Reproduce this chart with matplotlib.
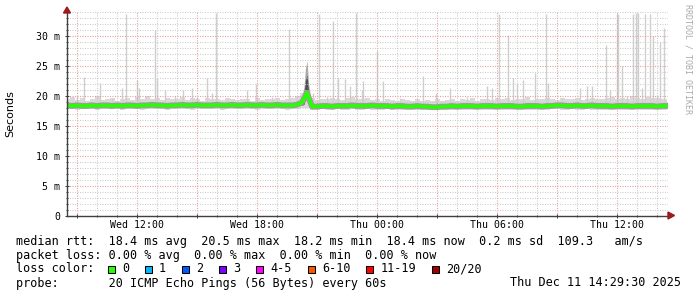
import matplotlib
matplotlib.use("Agg")
import matplotlib.pyplot as plt
import matplotlib.ticker as ticker
from matplotlib.patches import Rectangle, Polygon

# ----------------------------------------------------------------------------
# DATA  (time in hours since Wed 00:00, one sample every 15 minutes)
# ----------------------------------------------------------------------------
start_hour = 8.5
step_hour = 0.25

median_ms = [
    18.4, 18.3, 18.4, 18.3, 18.3, 18.4, 18.3, 18.4, 18.4, 18.3, 18.4, 18.3,
    18.4, 18.4, 18.3, 18.4, 18.4, 18.5, 18.4, 18.4, 18.3, 18.4, 18.4, 18.5,
    18.4, 18.4, 18.5, 18.4, 18.4, 18.4, 18.5, 18.4, 18.4, 18.5, 18.4, 18.4,
    18.5, 18.4, 18.4, 18.5, 18.4, 18.4, 18.5, 18.4, 18.4, 18.4, 18.5, 18.9,
    20.5, 18.2, 18.2, 18.3, 18.3, 18.2, 18.3, 18.3, 18.3, 18.4, 18.3, 18.3,
    18.3, 18.4, 18.3, 18.3, 18.3, 18.2, 18.3, 18.3, 18.2, 18.2, 18.3, 18.2,
    18.2, 18.1, 18.1, 18.2, 18.2, 18.3, 18.2, 18.3, 18.3, 18.3, 18.2, 18.3,
    18.3, 18.3, 18.2, 18.3, 18.3, 18.3, 18.2, 18.2, 18.3, 18.3, 18.3, 18.2,
    18.3, 18.3, 18.4, 18.4, 18.3, 18.3, 18.4, 18.3, 18.3, 18.4, 18.3, 18.3,
    18.3, 18.2, 18.3, 18.3, 18.3, 18.2, 18.3, 18.3, 18.3, 18.3, 18.2, 18.3,
    18.3,
]

smoke_top = [
    19.4, 19.8, 19.3, 19.6, 19.2, 19.5, 19.9, 19.3, 19.4, 19.7, 19.2, 19.5,
    19.6, 19.3, 19.8, 19.5, 19.9, 19.4, 19.6, 19.3, 19.7, 19.5, 19.4, 19.8,
    19.3, 19.6, 19.5, 19.2, 19.7, 19.4, 19.5, 19.3, 19.6, 19.4, 19.3, 19.5,
    19.4, 19.2, 19.6, 19.3, 19.5, 19.4, 19.7, 19.3, 19.5, 19.6, 19.9, 20.4,
    21.0, 19.6, 19.3, 19.5, 19.4, 19.7, 19.5, 19.3, 19.6, 19.8, 19.4, 19.5,
    19.7, 19.3, 19.5, 19.2, 19.4, 19.3, 19.2, 19.5, 19.3, 19.1, 19.4, 19.2,
    19.3, 19.1, 19.4, 19.2, 19.3, 19.5, 19.2, 19.4, 19.3, 19.6, 19.2, 19.4,
    19.5, 19.3, 19.6, 19.4, 19.7, 19.3, 19.5, 19.4, 19.8, 19.3, 19.5, 19.4,
    19.6, 19.4, 19.3, 19.7, 19.5, 19.4, 19.6, 19.3, 19.5, 19.7, 19.4, 19.5,
    19.6, 19.8, 19.5, 19.7, 19.4, 19.9, 19.6, 19.5, 19.8, 19.6, 19.7, 19.5,
    19.4,
]

smoke_bottom = [
    17.8, 17.8, 17.7, 17.8, 17.8, 17.8, 17.7, 17.8, 17.8, 17.8, 17.8, 17.7,
    17.8, 17.8, 17.8, 17.7, 17.8, 17.8, 17.8, 17.8, 17.7, 17.8, 17.8, 17.8,
    17.8, 17.7, 17.8, 17.8, 17.8, 17.8, 17.8, 17.7, 17.8, 17.8, 17.8, 17.8,
    17.8, 17.8, 17.7, 17.8, 17.8, 17.8, 17.8, 17.8, 17.7, 17.8, 17.8, 17.9,
    18.0, 17.7, 17.7, 17.8, 17.7, 17.7, 17.8, 17.7, 17.7, 17.8, 17.7, 17.7,
    17.8, 17.7, 17.7, 17.7, 17.8, 17.7, 17.7, 17.7, 17.6, 17.7, 17.7, 17.6,
    17.6, 17.6, 17.6, 17.7, 17.6, 17.7, 17.7, 17.7, 17.7, 17.7, 17.6, 17.7,
    17.7, 17.7, 17.7, 17.7, 17.7, 17.7, 17.7, 17.6, 17.7, 17.7, 17.7, 17.7,
    17.7, 17.8, 17.8, 17.7, 17.7, 17.8, 17.7, 17.7, 17.8, 17.7, 17.7, 17.7,
    17.7, 17.7, 17.7, 17.7, 17.7, 17.7, 17.7, 17.7, 17.7, 17.7, 17.7, 17.7,
    17.7,
]

# single tall outlier pings
spike_hours = [
    8.98, 9.35, 10.15, 10.73, 11.23, 11.43, 11.98, 12.10, 12.90, 12.98,
    13.40, 13.90, 14.30, 14.73, 14.98, 15.48, 15.73, 15.95, 16.48, 17.48,
    17.95, 18.73, 19.60, 19.95, 20.80, 21.10, 21.48, 21.78, 22.07, 22.40,
    22.65, 22.95, 23.23, 23.30, 23.98, 24.28, 25.15, 26.28, 26.95, 27.65,
    28.48, 29.48, 29.73, 30.10, 30.56, 30.80, 30.98, 31.28, 31.90, 32.45,
    32.53, 33.23, 34.15, 34.52, 34.73, 35.43, 35.65, 36.00, 36.07, 36.23,
    36.50, 36.82, 36.97, 37.05, 37.23, 37.40, 37.65, 37.78, 37.98, 38.15,
    38.35,
]
spike_ms = [
    20.0, 23.1, 22.1, 19.6, 21.3, 33.6, 22.7, 21.3, 31.0, 23.0,
    21.0, 20.0, 21.0, 21.3, 19.8, 23.0, 20.5, 33.8, 19.5, 21.0,
    22.0, 19.8, 31.1, 19.5, 20.5, 33.6, 19.8, 32.5, 23.0, 22.8,
    21.6, 33.8, 21.0, 22.4, 27.5, 22.4, 19.6, 23.3, 20.5, 21.3,
    19.8, 21.6, 21.3, 33.6, 30.2, 23.0, 22.0, 22.7, 23.8, 33.6,
    22.2, 19.7, 21.3, 21.6, 21.6, 28.5, 21.0, 33.6, 33.6, 25.0,
    20.0, 33.6, 33.8, 33.8, 21.3, 33.6, 33.6, 30.0, 20.2, 29.0,
    31.3,
]

# the latency bump on Wed evening (darker smoke)
event_hours = [20.25, 20.35, 20.42, 20.5, 20.58, 20.68]
event_lo = [18.4, 18.6, 19.2, 19.6, 18.8, 18.3]
event_hi = [19.8, 21.5, 24.5, 25.8, 22.0, 19.6]
event_core_hi = [19.0, 20.2, 22.5, 23.5, 20.5, 19.0]

xtick_hours = [12, 18, 24, 30, 36]
xtick_labels = ["Wed 12:00", "Wed 18:00", "Thu 00:00", "Thu 06:00", "Thu 12:00"]

loss_labels = ["0", "1", "2", "3", "4-5", "6-10", "11-19", "20/20"]
loss_colors = ["#26ff00", "#00b8ff", "#0059ff", "#7e00ff",
               "#ff00ff", "#ff5500", "#ff0000", "#a10000"]

row_rtt = "median rtt:  18.4 ms avg  20.5 ms max  18.2 ms min  18.4 ms now  0.2 ms sd  109.3   am/s"
row_loss = "packet loss: 0.00 % avg  0.00 % max  0.00 % min  0.00 % now"
row_probe = "probe:       20 ICMP Echo Pings (56 Bytes) every 60s"
stamp = "Thu Dec 11 14:29:30 2025"

# ----------------------------------------------------------------------------
# STYLE
# ----------------------------------------------------------------------------
W, H = 697, 297
MONO = "DejaVu Sans Mono"
GRID_MINOR = "#cccccc"
GRID_MAJOR = "#eb9a9a"
AXIS = "#404040"
ARROW = "#9b1c1c"
MEDIAN = "#26ff00"


def fx(px):
    return px / W


def fy(py):
    return 1 - py / H


hours = [start_hour + i * step_hour for i in range(len(median_ms))]

fig = plt.figure(figsize=(W / 100, H / 100), dpi=100)
fig.patch.set_facecolor("white")
ax = fig.add_axes([fx(67), fy(215.5), (668 - 67) / W, (215.5 - 12) / H])
ax.set_facecolor("white")

# smoke
ax.fill_between(hours, smoke_bottom, smoke_top, step="mid",
                color="#d9d9d9", linewidth=0, zorder=1)
ax.vlines(spike_hours, 18.6, spike_ms, color="#cfcfcf", linewidth=1.0, zorder=1)
ax.fill_between(event_hours, event_lo, event_hi, color="#a8a8a8",
                linewidth=0, zorder=1.5)
ax.fill_between(event_hours, event_lo, event_core_hi, color="#505050",
                linewidth=0, zorder=1.6)

# median
ax.plot(hours, median_ms, color="#9c9c9c", linewidth=4.2, zorder=3)
ax.plot(hours, median_ms, color=MEDIAN, linewidth=2.5, zorder=4)

ax.set_xlim(8.5, 38.55)
ax.set_ylim(0, 34)

# grid
ax.xaxis.set_major_locator(ticker.MultipleLocator(3))
ax.xaxis.set_minor_locator(ticker.MultipleLocator(1))
ax.yaxis.set_major_locator(ticker.MultipleLocator(5))
ax.yaxis.set_minor_locator(ticker.MultipleLocator(1))
xlab = dict(zip(xtick_hours, xtick_labels))
ax.xaxis.set_major_formatter(
    ticker.FuncFormatter(lambda v, p: xlab.get(int(round(v)), "")))
ax.yaxis.set_major_formatter(
    ticker.FuncFormatter(lambda v, p: "0" if v == 0 else f"{v:.0f} m"))
ax.set_axisbelow(False)
ax.grid(True, which="minor", color=GRID_MINOR, linewidth=0.75,
        linestyle=(0, (1, 1.4)))
ax.grid(True, which="major", color=GRID_MAJOR, linewidth=0.75,
        linestyle=(0, (1, 1.4)))
for gl in ax.get_xgridlines() + ax.get_ygridlines():
    gl.set_zorder(2.5)

for side in ("top", "right"):
    ax.spines[side].set_visible(False)
for side in ("left", "bottom"):
    ax.spines[side].set_color(AXIS)
    ax.spines[side].set_linewidth(1.0)
    ax.spines[side].set_zorder(5)

ax.tick_params(which="both", colors=AXIS, direction="inout")
ax.tick_params(which="major", length=3.5, width=0.75)
ax.tick_params(which="minor", length=2, width=0.75)
ax.tick_params(axis="x", which="major", pad=1.5, labelsize=7.1)
ax.tick_params(axis="y", which="major", pad=3, labelsize=7.1)
for lab in ax.get_xticklabels() + ax.get_yticklabels():
    lab.set_fontfamily(MONO)
    lab.set_color("black")

# axis arrows
fig.add_artist(Polygon([[fx(63.5), fy(13)], [fx(70.5), fy(13)], [fx(67), fy(7)]],
                       closed=True, color=ARROW, transform=fig.transFigure))
fig.add_artist(Polygon([[fx(668), fy(212)], [fx(668), fy(219)], [fx(674.5), fy(215.5)]],
                       closed=True, color=ARROW, transform=fig.transFigure))

fig.text(fx(10), fy(114), "Seconds", rotation=90, ha="center", va="center",
         fontsize=8, family="DejaVu Sans")
fig.text(fx(688), fy(4), "RRDTOOL / TOBI OETIKER", rotation=270, ha="center",
         va="top", fontsize=6, family=MONO, color="#aaaaaa")

# legend rows
TXT = dict(family=MONO, fontsize=8.5, va="center", color="black")
fig.text(fx(16), fy(241), row_rtt, **TXT)
fig.text(fx(16), fy(255), row_loss, **TXT)
fig.text(fx(16), fy(269), "loss color:", **TXT)
fig.text(fx(16), fy(283), row_probe, **TXT)
fig.text(fx(681), fy(283), stamp, ha="right", **TXT)

bx = 108
for lab, col in zip(loss_labels, loss_colors):
    fig.add_artist(Rectangle((fx(bx), fy(272.5)), 7 / W, 7 / H, facecolor=col,
                             edgecolor="black", linewidth=0.75,
                             transform=fig.transFigure))
    fig.text(fx(bx + 14), fy(269), lab, **TXT)
    bx += 14 + len(lab) * 7.12 + 16

fig.savefig("out.png", dpi=100, facecolor="white")
